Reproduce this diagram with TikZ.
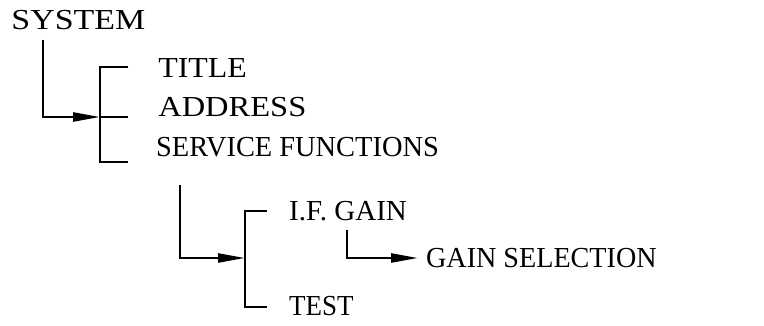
\documentclass[tikz,border=0pt]{standalone}
\usepackage{fontspec}
\setmainfont{Liberation Serif}
\usetikzlibrary{arrows.meta}
\begin{document}
\begin{tikzpicture}[x=1pt,y=-1pt,line width=2.4pt,
  txt/.style={anchor=base west,inner sep=0pt,font=\fontsize{29}{31}\selectfont},
  arr/.style={-{Triangle[length=27pt,width=9pt]}}]
\useasboundingbox (0,0) rectangle (764,326);
% texts
\node[txt,xscale=1.17] (sys) at (10,30) {SYSTEM};
\node[txt,xscale=1.10] (title) at (157,78) {TITLE};
\node[txt,xscale=1.12] (addr) at (157,117) {ADDRESS};
\node[txt,xscale=0.98] (serv) at (155,157) {SERVICE FUNCTIONS};
\node[txt] (ifg) at (288,221) {I.F. GAIN};
\node[txt,xscale=0.93] (test) at (288,316) {TEST};
\node[txt,xscale=0.97] (gsel) at (425,267) {GAIN SELECTION};
% first group
\coordinate (s1) at (43,40);
\coordinate (b1) at (100,117);
\coordinate (b1t) at (100,67);
\coordinate (b1b) at (100,162);
\coordinate (e1t) at (128,67);
\coordinate (e1m) at (128,117);
\coordinate (e1b) at (128,162);
\draw[arr] (s1) |- (b1);
\draw (e1t) -- (b1t) -- (b1b) -- (e1b);
\draw (b1) -- (e1m);
% second group
\coordinate (s2) at (180,185);
\coordinate (b2) at (245,258);
\coordinate (b2t) at (245,211);
\coordinate (b2b) at (245,307);
\coordinate (e2t) at (267,211);
\coordinate (e2b) at (267,307);
\draw[arr] (s2) |- (b2);
\draw (e2t) -- (b2t) -- (b2b) -- (e2b);
% third
\coordinate (s3) at (347,230);
\coordinate (t3) at (418,258);
\draw[arr] (s3) |- (t3);
\end{tikzpicture}
\end{document}
